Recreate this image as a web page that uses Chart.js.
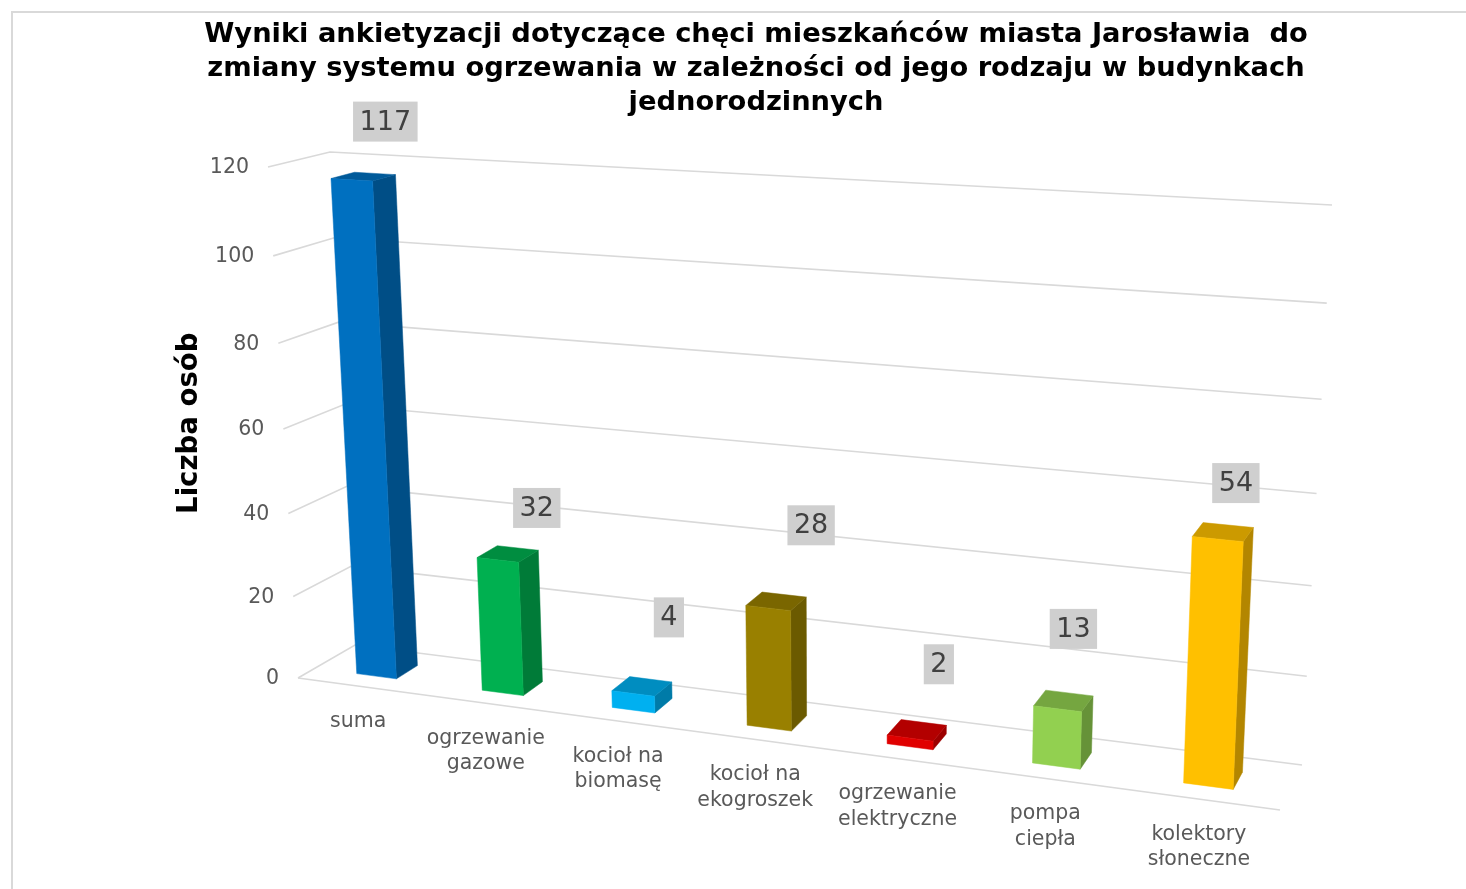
<!DOCTYPE html>
<html lang="pl">
<head>
<meta charset="utf-8">
<title>Wyniki ankietyzacji</title>
<script src="https://cdn.jsdelivr.net/npm/chart.js@4/dist/chart.umd.js"></script>
<style>
  html, body { margin: 0; background: #fff; }
  canvas { display: block; }
</style>
</head>
<body>
<canvas id="wykres" width="1466" height="889"></canvas>
<script>
const kategorie = [
  ["suma"],
  ["ogrzewanie", "gazowe"],
  ["kocioł na", "biomasę"],
  ["kocioł na", "ekogroszek"],
  ["ogrzewanie", "elektryczne"],
  ["pompa", "ciepła"],
  ["kolektory", "słoneczne"],
];
const liczbaOsob = [117, 32, 4, 28, 2, 13, 54];
const kolory = ["#0070C0", "#00B050", "#00B0F0", "#998000", "#E00000", "#92D050", "#FFC000"];
const tytul = [
  "Wyniki ankietyzacji dotyczące chęci mieszkańców miasta Jarosławia  do",
  "zmiany systemu ogrzewania w zależności od jego rodzaju w budynkach",
  "jednorodzinnych",
];

// Przesunięcie etykiet wartości względem środka górnej ściany słupka
const przesuniecieEtykiet = [[22, -55], [29, -46], [27, -69], [35, -76], [22, -66], [10, -72], [13, -49]];

// Narożniki "pudełka" 3D: przednia i tylna płaszczyzna (dół-lewy, dół-prawy, góra-prawy, góra-lewy)
const przod = homografia([298, 678], [1280, 810], [1305, 232], [268, 167]);
const tyl = homografia([355, 645], [1302, 765], [1332, 205], [330, 152]);
const glebokoscSlupka = [0.3, 0.69];

function homografia(p0, p1, p2, p3) {
  const dx1 = p1[0] - p2[0], dx2 = p3[0] - p2[0], sx = p0[0] - p1[0] + p2[0] - p3[0];
  const dy1 = p1[1] - p2[1], dy2 = p3[1] - p2[1], sy = p0[1] - p1[1] + p2[1] - p3[1];
  const den = dx1 * dy2 - dx2 * dy1;
  const g = (sx * dy2 - dx2 * sy) / den;
  const h = (dx1 * sy - sx * dy1) / den;
  const a = p1[0] - p0[0] + g * p1[0], b = p3[0] - p0[0] + h * p3[0];
  const d = p1[1] - p0[1] + g * p1[1], e = p3[1] - p0[1] + h * p3[1];
  return (s, t) => {
    const w = g * s + h * t + 1;
    return [(a * s + b * t + p0[0]) / w, (d * s + e * t + p0[1]) / w];
  };
}

// Piksele ze skal Chart.js -> punkt na obrazku (z = 0 przód, z = 1 tył)
function rzut(chart, px, py, z) {
  const area = chart.chartArea;
  const s = (px - area.left) / (area.right - area.left);
  const t = (area.bottom - py) / (area.bottom - area.top);
  const a = przod(s, t), b = tyl(s, t);
  return [a[0] + (b[0] - a[0]) * z, a[1] + (b[1] - a[1]) * z];
}

function sciemnij(hex, f) {
  const n = parseInt(hex.slice(1), 16);
  return "rgb(" + [(n >> 16) & 255, (n >> 8) & 255, n & 255].map((c) => Math.round(c * f)).join(",") + ")";
}

function wielokat(ctx, punkty, kolor) {
  ctx.beginPath();
  punkty.forEach((p, i) => (i ? ctx.lineTo(p[0], p[1]) : ctx.moveTo(p[0], p[1])));
  ctx.closePath();
  ctx.fillStyle = kolor;
  ctx.fill();
  ctx.strokeStyle = kolor;
  ctx.lineWidth = 0.5;
  ctx.stroke();
}

// Słupki 3D rysowane z elementów kontrolera słupkowego
class Slupki3D extends Chart.BarController {
  draw() {
    const chart = this.chart, ctx = chart.ctx;
    const meta = this.getMeta();
    const z0 = glebokoscSlupka[0], z1 = glebokoscSlupka[1];
    meta.data.forEach((bar, i) => {
      const { x, y, base, width } = bar.getProps(["x", "y", "base", "width"], true);
      const l = x - width / 2, r = x + width / 2;
      const kolor = this.getDataset().backgroundColor[i];
      const fbl = rzut(chart, l, base, z0), fbr = rzut(chart, r, base, z0);
      const ftl = rzut(chart, l, y, z0), ftr = rzut(chart, r, y, z0);
      const bbr = rzut(chart, r, base, z1);
      const btl = rzut(chart, l, y, z1), btr = rzut(chart, r, y, z1);
      wielokat(ctx, [fbr, bbr, btr, ftr], sciemnij(kolor, 0.7));
      wielokat(ctx, [ftl, ftr, btr, btl], sciemnij(kolor, 0.8));
      wielokat(ctx, [fbl, fbr, ftr, ftl], kolor);
    });
  }
}
Slupki3D.id = "slupki3d";
Chart.register(Slupki3D);

// Ramka, siatka i opisy osi w rzucie perspektywicznym
const osie3D = {
  id: "osie3D",
  beforeDraw(chart) {
    const ctx = chart.ctx;
    ctx.save();
    ctx.fillStyle = "#fff";
    ctx.fillRect(0, 0, chart.width, chart.height);
    ctx.strokeStyle = "#d9d9d9";
    ctx.lineWidth = 2;
    ctx.beginPath();
    ctx.moveTo(12, chart.height);
    ctx.lineTo(12, 12);
    ctx.lineTo(chart.width, 12);
    ctx.stroke();
    ctx.restore();
  },
  beforeDatasetsDraw(chart) {
    const ctx = chart.ctx, area = chart.chartArea;
    const y = chart.scales.y, x = chart.scales.x;
    ctx.save();
    ctx.strokeStyle = "#d9d9d9";
    ctx.lineWidth = 1.6;
    ctx.font = "20.5px 'DejaVu Sans'";
    ctx.fillStyle = "#595959";
    ctx.textBaseline = "middle";
    y.ticks.forEach((tick) => {
      const py = y.getPixelForValue(tick.value);
      const a = rzut(chart, area.left, py, 0);
      const b = rzut(chart, area.left, py, 1);
      const c = rzut(chart, area.right, py, 1);
      ctx.beginPath();
      ctx.moveTo(a[0], a[1]);
      ctx.lineTo(b[0], b[1]);
      ctx.lineTo(c[0], c[1]);
      ctx.stroke();
      ctx.textAlign = "right";
      ctx.fillText(tick.label, a[0] - 19, a[1] + 1);
    });
    const p0 = rzut(chart, area.left, area.bottom, 0);
    const p1 = rzut(chart, area.right, area.bottom, 0);
    ctx.beginPath();
    ctx.moveTo(p0[0], p0[1]);
    ctx.lineTo(p1[0], p1[1]);
    ctx.stroke();

    ctx.textAlign = "center";
    kategorie.forEach((linie, i) => {
      const p = rzut(chart, x.getPixelForValue(i), area.bottom, 0);
      linie.forEach((tekst, n) => ctx.fillText(tekst, p[0] - 2, p[1] + 35 + n * 25.5));
    });
    ctx.restore();
  },
  afterDatasetsDraw(chart) {
    const ctx = chart.ctx;
    const meta = chart.getDatasetMeta(0);
    ctx.save();
    ctx.font = "27px 'DejaVu Sans'";
    ctx.textAlign = "center";
    ctx.textBaseline = "middle";
    meta.data.forEach((bar, i) => {
      const p = rzut(chart, bar.x, bar.y, (glebokoscSlupka[0] + glebokoscSlupka[1]) / 2);
      const cx = p[0] + przesuniecieEtykiet[i][0], cy = p[1] + przesuniecieEtykiet[i][1];
      const tekst = String(liczbaOsob[i]);
      const w = ctx.measureText(tekst).width + 13;
      ctx.fillStyle = "#cfcfcf";
      ctx.fillRect(cx - w / 2, cy - 20, w, 40);
      ctx.fillStyle = "#404040";
      ctx.fillText(tekst, cx, cy + 1);
    });
    ctx.restore();
  },
};

new Chart(document.getElementById("wykres"), {
  type: "slupki3d",
  data: {
    labels: kategorie,
    datasets: [{ data: liczbaOsob, backgroundColor: kolory, barPercentage: 0.32, categoryPercentage: 1, clip: false }],
  },
  options: {
    responsive: false,
    animation: false,
    layout: { padding: { top: 18, left: 173, right: 127, bottom: 167 } },
    scales: {
      x: { type: "category", display: false },
      y: {
        type: "linear",
        min: 0,
        max: 120,
        ticks: { stepSize: 20, display: false },
        grid: { display: false },
        border: { display: false },
        title: {
          display: true,
          text: "Liczba osób",
          color: "#000",
          font: { family: "'DejaVu Sans'", size: 27.6, weight: "bold" },
          padding: 0,
        },
      },
    },
    plugins: {
      legend: { display: false },
      tooltip: { enabled: false },
      title: {
        display: true,
        text: tytul,
        color: "#000",
        font: { family: "'DejaVu Sans'", size: 27.3, weight: "bold", lineHeight: 1.25 },
        padding: { top: 0, bottom: 4 },
      },
    },
  },
  plugins: [osie3D],
});
</script>
</body>
</html>
